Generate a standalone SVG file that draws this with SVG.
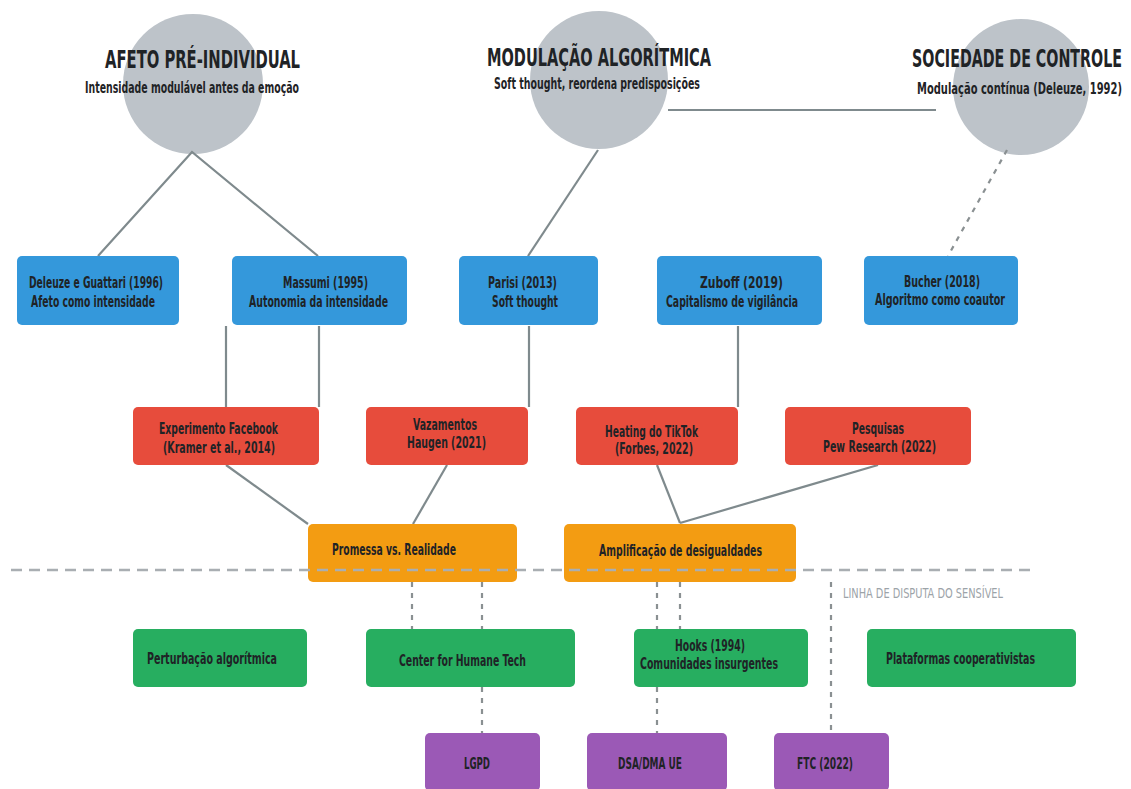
<svg xmlns="http://www.w3.org/2000/svg" width="1131" height="789" viewBox="0 0 1131 789">
<style>
text{font-family:"Liberation Sans Narrow","DejaVu Sans Condensed","Liberation Sans",sans-serif;fill:#1f2326}
.t{font-size:25px;font-weight:bold}
.s{font-size:15.5px;font-weight:bold}
.b{font-size:16.5px;font-weight:bold}
.lbl{font-size:14.5px;fill:#9ca3a8}
.circ{fill:#bdc3c9}
.blue{fill:#3498db}
.red{fill:#e74c3c}
.org{fill:#f39c12}
.grn{fill:#27ae60}
.pur{fill:#9b59b6}
.ln{stroke:#7f8a8d;stroke-width:2.2;fill:none}
.dot{stroke:#8a9092;stroke-width:2.2;fill:none;stroke-dasharray:5 6}
.dsh{stroke:#a9aeb2;stroke-width:2.5;fill:none;stroke-dasharray:11 7}
</style>
<rect width="1131" height="789" fill="#ffffff"/>
<g id="concepts">
<g id="afeto"><circle class="circ" cx="193" cy="84" r="70"/>
<text class="t" x="105" y="68" textLength="195" lengthAdjust="spacingAndGlyphs">AFETO PRÉ-INDIVIDUAL</text>
<text class="s" x="85" y="93" textLength="214" lengthAdjust="spacingAndGlyphs">Intensidade modulável antes da emoção</text></g>
<g id="modulacao"><circle class="circ" cx="599" cy="80" r="69"/>
<text class="t" x="487" y="66" textLength="224" lengthAdjust="spacingAndGlyphs">MODULAÇÃO ALGORÍTMICA</text>
<text class="s" x="494" y="89" textLength="206" lengthAdjust="spacingAndGlyphs">Soft thought, reordena predisposições</text></g>
<g id="sociedade"><circle class="circ" cx="1021" cy="87" r="68"/>
<text class="t" x="1122" y="67" text-anchor="end" textLength="210" lengthAdjust="spacingAndGlyphs">SOCIEDADE DE CONTROLE</text>
<text class="s" x="1122" y="94" text-anchor="end" textLength="205" lengthAdjust="spacingAndGlyphs">Modulação contínua (Deleuze, 1992)</text></g>
</g>
<g id="connectors">
<line class="ln" x1="668" y1="110" x2="936" y2="110"/>
<polyline class="ln" points="98,256 192,152 318,256"/>
<line class="ln" x1="598" y1="150" x2="528" y2="256"/>
<line class="dot" x1="1007" y1="150" x2="948" y2="256"/>
<line class="ln" x1="226" y1="326" x2="226" y2="407"/>
<line class="ln" x1="319" y1="326" x2="319" y2="407"/>
<line class="ln" x1="529" y1="326" x2="529" y2="407"/>
<line class="ln" x1="738" y1="326" x2="738" y2="407"/>
<line class="ln" x1="226" y1="465" x2="308" y2="524"/>
<line class="ln" x1="447" y1="465" x2="413" y2="524"/>
<line class="ln" x1="657" y1="465" x2="680" y2="523"/>
<line class="ln" x1="878" y1="465" x2="680" y2="523"/>
<line class="dot" x1="412" y1="582" x2="412" y2="629"/>
<line class="dot" x1="482" y1="582" x2="482" y2="629"/>
<line class="dot" x1="482" y1="687" x2="482" y2="733"/>
<line class="dot" x1="657" y1="582" x2="657" y2="629"/>
<line class="dot" x1="680" y1="582" x2="680" y2="629"/>
<line class="dot" x1="657" y1="687" x2="657" y2="733"/>
<line class="dot" x1="831" y1="582" x2="831" y2="733"/>
</g>
<g id="n-deleuze"><rect class="blue" x="17" y="256" width="162" height="69" rx="5"/>
<text class="b" x="29" y="288" textLength="134" lengthAdjust="spacingAndGlyphs">Deleuze e Guattari (1996)</text>
<text class="b" x="31" y="307" textLength="124" lengthAdjust="spacingAndGlyphs">Afeto como intensidade</text></g>
<g id="n-massumi"><rect class="blue" x="232" y="256" width="175" height="69" rx="5"/>
<text class="b" x="283" y="288" textLength="85" lengthAdjust="spacingAndGlyphs">Massumi (1995)</text>
<text class="b" x="249" y="307" textLength="139" lengthAdjust="spacingAndGlyphs">Autonomia da intensidade</text></g>
<g id="n-parisi"><rect class="blue" x="459" y="256" width="139" height="69" rx="5"/>
<text class="b" x="488" y="288" textLength="69" lengthAdjust="spacingAndGlyphs">Parisi (2013)</text>
<text class="b" x="492" y="307" textLength="66" lengthAdjust="spacingAndGlyphs">Soft thought</text></g>
<g id="n-zuboff"><rect class="blue" x="657" y="256" width="165" height="69" rx="5"/>
<text class="b" x="700" y="288" textLength="83" lengthAdjust="spacingAndGlyphs">Zuboff (2019)</text>
<text class="b" x="666" y="307" textLength="132" lengthAdjust="spacingAndGlyphs">Capitalismo de vigilância</text></g>
<g id="n-bucher"><rect class="blue" x="864" y="256" width="154" height="69" rx="5"/>
<text class="b" x="904" y="287" textLength="76" lengthAdjust="spacingAndGlyphs">Bucher (2018)</text>
<text class="b" x="875" y="305" textLength="130" lengthAdjust="spacingAndGlyphs">Algoritmo como coautor</text></g>
<g id="n-facebook"><rect class="red" x="133" y="407" width="186" height="58" rx="5"/>
<text class="b" x="159" y="434" textLength="119" lengthAdjust="spacingAndGlyphs">Experimento Facebook</text>
<text class="b" x="163" y="453" textLength="112" lengthAdjust="spacingAndGlyphs">(Kramer et al., 2014)</text></g>
<g id="n-haugen"><rect class="red" x="366" y="407" width="162" height="58" rx="5"/>
<text class="b" x="413" y="430" textLength="64" lengthAdjust="spacingAndGlyphs">Vazamentos</text>
<text class="b" x="407" y="448" textLength="79" lengthAdjust="spacingAndGlyphs">Haugen (2021)</text></g>
<g id="n-tiktok"><rect class="red" x="576" y="407" width="162" height="58" rx="5"/>
<text class="b" x="605" y="437" textLength="93" lengthAdjust="spacingAndGlyphs">Heating do TikTok</text>
<text class="b" x="615" y="454" textLength="78" lengthAdjust="spacingAndGlyphs">(Forbes, 2022)</text></g>
<g id="n-pew"><rect class="red" x="785" y="407" width="186" height="58" rx="5"/>
<text class="b" x="852" y="434" textLength="52" lengthAdjust="spacingAndGlyphs">Pesquisas</text>
<text class="b" x="823" y="452" textLength="113" lengthAdjust="spacingAndGlyphs">Pew Research (2022)</text></g>
<g id="n-promessa"><rect class="org" x="308" y="524" width="209" height="58" rx="5"/>
<text class="b" x="332" y="555" textLength="124" lengthAdjust="spacingAndGlyphs">Promessa vs. Realidade</text></g>
<g id="n-amplificacao"><rect class="org" x="564" y="524" width="232" height="58" rx="5"/>
<text class="b" x="599" y="556" textLength="163" lengthAdjust="spacingAndGlyphs">Amplificação de desigualdades</text></g>
<g id="divider">
<line class="dsh" x1="11" y1="570" x2="1032" y2="570"/>
<text class="lbl" x="843" y="598" textLength="160" lengthAdjust="spacingAndGlyphs">LINHA DE DISPUTA DO SENSÍVEL</text>
</g>
<g id="n-perturbacao"><rect class="grn" x="133" y="629" width="174" height="58" rx="5"/>
<text class="b" x="147" y="664" textLength="130" lengthAdjust="spacingAndGlyphs">Perturbação algorítmica</text></g>
<g id="n-humane"><rect class="grn" x="366" y="629" width="209" height="58" rx="5"/>
<text class="b" x="399" y="666" textLength="127" lengthAdjust="spacingAndGlyphs">Center for Humane Tech</text></g>
<g id="n-hooks"><rect class="grn" x="634" y="629" width="174" height="58" rx="5"/>
<text class="b" x="675" y="651" textLength="70" lengthAdjust="spacingAndGlyphs">Hooks (1994)</text>
<text class="b" x="640" y="669" textLength="138" lengthAdjust="spacingAndGlyphs">Comunidades insurgentes</text></g>
<g id="n-cooperativistas"><rect class="grn" x="867" y="629" width="209" height="58" rx="5"/>
<text class="b" x="886" y="664" textLength="149" lengthAdjust="spacingAndGlyphs">Plataformas cooperativistas</text></g>
<g id="n-lgpd"><rect class="pur" x="425" y="733" width="115" height="58" rx="5"/>
<text class="b" x="464" y="769" textLength="26" lengthAdjust="spacingAndGlyphs">LGPD</text></g>
<g id="n-dsa"><rect class="pur" x="587" y="733" width="140" height="58" rx="5"/>
<text class="b" x="618" y="769" textLength="64" lengthAdjust="spacingAndGlyphs">DSA/DMA UE</text></g>
<g id="n-ftc"><rect class="pur" x="774" y="733" width="115" height="58" rx="5"/>
<text class="b" x="797" y="769" textLength="56" lengthAdjust="spacingAndGlyphs">FTC (2022)</text></g>
</svg>
